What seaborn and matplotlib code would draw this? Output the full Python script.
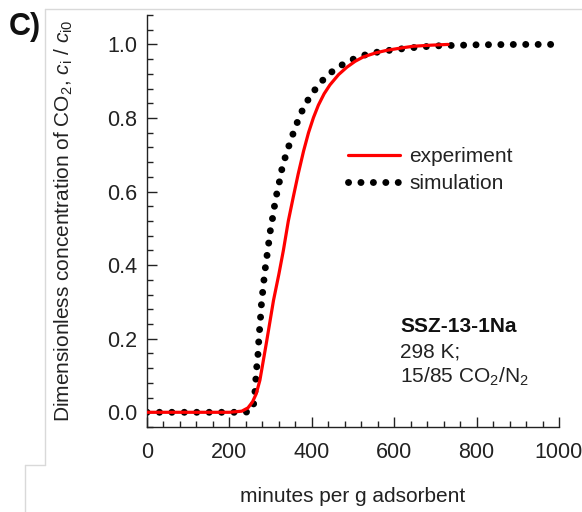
import matplotlib
matplotlib.use("Agg")
import matplotlib.pyplot as plt
from matplotlib.ticker import MultipleLocator, FixedLocator
from matplotlib.lines import Line2D
import seaborn as sns
import pandas as pd

# ---- data ----
exp_x = [0, 100, 200, 230, 245, 256, 265, 274, 290, 307, 320, 331, 343, 355, 367, 380,
         392, 404, 416, 430, 444, 465, 485, 505, 525, 555, 582, 615, 646, 690, 731]
exp_y = [0, 0, 0, 0.003, 0.012, 0.028, 0.05, 0.087, 0.19, 0.304, 0.375, 0.44, 0.52, 0.585,
         0.648, 0.71, 0.76, 0.801, 0.835, 0.866, 0.890, 0.918, 0.938, 0.954, 0.966, 0.977,
         0.984, 0.990, 0.995, 0.998, 1.0]

sim_x = [0, 238, 252, 258, 260.5, 263.8, 264.6, 268.6, 270.2, 272, 274.3, 276.7, 278.4,
         282.4, 284.9, 289, 293, 297, 301, 306.6, 310.7, 317, 324, 329, 339, 348, 359, 370,
         384, 402, 426, 455, 485, 515, 544, 574, 604, 633, 663, 700, 800, 900, 990]
sim_y = [0, 0, 0.003, 0.015, 0.04, 0.075, 0.108, 0.143, 0.175, 0.207, 0.24, 0.274, 0.307,
         0.34, 0.374, 0.407, 0.44, 0.474, 0.507, 0.538, 0.571, 0.605, 0.64, 0.671, 0.705,
         0.737, 0.771, 0.804, 0.837, 0.869, 0.902, 0.932, 0.952, 0.967, 0.976, 0.982, 0.986,
         0.990, 0.993, 0.996, 0.999, 1.0, 1.0]

series_labels = ["experiment", "simulation"]
x_ticks = [0, 200, 400, 600, 800, 1000]
y_ticks = [0.0, 0.2, 0.4, 0.6, 0.8, 1.0]

sns.set_theme(style="ticks")
plt.rcParams["font.family"] = ["Liberation Sans", "DejaVu Sans"]
plt.rcParams["mathtext.fontset"] = "custom"
plt.rcParams["mathtext.rm"] = "Liberation Sans"
plt.rcParams["mathtext.it"] = "Liberation Sans:italic"
plt.rcParams["mathtext.bf"] = "Liberation Sans:bold"

fig = plt.figure(figsize=(5.82, 5.12), dpi=100)
ax = fig.add_axes([147/582, 85/512, 412/582, 412/512])

df_exp = pd.DataFrame({"x": exp_x, "y": exp_y})
df_sim = pd.DataFrame({"x": sim_x, "y": sim_y})

sns.lineplot(data=df_sim, x="x", y="y", ax=ax, estimator=None, color="black",
             linewidth=5.0, linestyle=(0, (0.01, 1.78)), dash_capstyle="round",
             label=series_labels[1], zorder=2)
sns.lineplot(data=df_exp, x="x", y="y", ax=ax, estimator=None, color="#ff0000",
             linewidth=2.3, label=series_labels[0], zorder=3)

ax.set_xlim(0, 1000)
ax.set_ylim(-0.04, 1.08)
ax.xaxis.set_major_locator(FixedLocator(x_ticks))
ax.yaxis.set_major_locator(FixedLocator(y_ticks))
ax.xaxis.set_minor_locator(MultipleLocator(40))
ax.yaxis.set_minor_locator(MultipleLocator(0.04))
ax.set_xticklabels([str(t) for t in x_ticks])
ax.set_yticklabels([f"{t:.1f}" for t in y_ticks])

ax.tick_params(which="both", direction="in", color="#222222", width=1, labelsize=15.5,
               labelcolor="#222222")
ax.tick_params(which="major", length=7)
ax.tick_params(which="minor", length=4.5)
ax.tick_params(axis="x", which="major", pad=11)
ax.tick_params(axis="y", which="major", pad=7)

for s in ["top", "right"]:
    ax.spines[s].set_visible(False)
for s in ["left", "bottom"]:
    ax.spines[s].set_color("#222222")
    ax.spines[s].set_linewidth(1)

ax.set_xlabel("minutes per g adsorbent", fontsize=15, color="#222222")
ax.xaxis.set_label_coords(0.5, -0.146)
ax.set_ylabel(r"Dimensionless concentration of CO$_2$, $c_\mathrm{i}$ / $c_\mathrm{i0}$",
              fontsize=15, color="#222222")
ax.yaxis.set_label_coords(-0.175, 0.5)

handles, labels = ax.get_legend_handles_labels()
order = [labels.index(series_labels[0]), labels.index(series_labels[1])]
ax.legend([handles[i] for i in order], [labels[i] for i in order],
          loc="upper left", bbox_to_anchor=(0.488, 0.68), frameon=False, fontsize=15,
          handlelength=2.5, handletextpad=0.45, labelspacing=0.39, borderpad=0,
          borderaxespad=0, labelcolor="#222222")

ax.text(0.614, (427-326)/412, "SSZ-13-1Na", transform=ax.transAxes, fontsize=15,
        fontweight="bold", va="center", ha="left", color="#111111")
ax.text(0.614, (427-352)/412, "298 K;", transform=ax.transAxes, fontsize=15,
        va="center", ha="left", color="#222222")
ax.text(0.614, (427-377)/412, r"15/85 CO$_2$/N$_2$", transform=ax.transAxes, fontsize=15,
        va="center", ha="left", color="#222222")

fig.text(9/582, 1 - 27/512, "C)", fontsize=22, fontweight="bold", va="center", ha="left",
         color="#111111")

gray = "#d9d9d9"
W, H = 582, 512
for (x0, y0, x1, y1) in [(45, 9, 582, 9), (45, 9, 45, 465), (25, 465, 45, 465), (25, 465, 25, 512)]:
    fig.add_artist(Line2D([x0/W, x1/W], [1 - y0/H, 1 - y1/H], color=gray, lw=1,
                          transform=fig.transFigure, zorder=0))

fig.savefig("out.png", dpi=100)
